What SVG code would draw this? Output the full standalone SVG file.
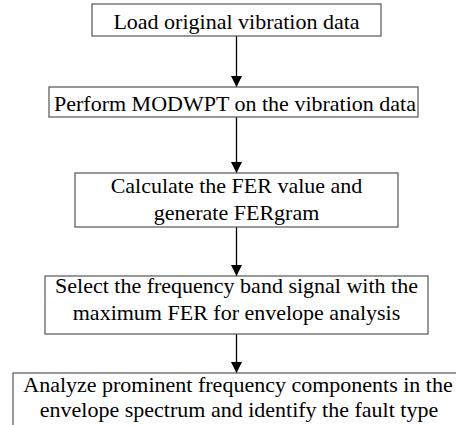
<svg xmlns="http://www.w3.org/2000/svg" width="456" height="425" viewBox="0 0 456 425">
  <defs>
    <style>
      .box { fill: #ffffff; stroke: #555555; stroke-width: 1.2; }
      .edge { stroke: #000000; stroke-width: 1.3; fill: none; marker-end: url(#arrow); }
    </style>
    <marker id="arrow" markerUnits="userSpaceOnUse" markerWidth="12" markerHeight="14" refX="11" refY="5.5" orient="auto">
      <path d="M0,0 L11,5.5 L0,11 Z" fill="#000000"/>
    </marker>
  </defs>
  <rect width="456" height="425" fill="#ffffff"/>

  <g id="connectors">
    <line class="edge" x1="236.5" y1="36" x2="236.5" y2="87"/>
    <line class="edge" x1="236.5" y1="117" x2="236.5" y2="173"/>
    <line class="edge" x1="236.5" y1="227" x2="236.5" y2="276"/>
    <line class="edge" x1="236.5" y1="334" x2="236.5" y2="373"/>
  </g>

  <g id="nodes" font-family="'Liberation Serif', 'Times New Roman', 'DejaVu Serif', serif" font-size="22" fill="#000000" text-anchor="middle">
    <g id="load-data">
      <rect class="box" x="92" y="4" width="289" height="32"/>
      <text x="236.5" y="29">Load original vibration data</text>
    </g>

    <g id="modwpt">
      <rect class="box" x="49" y="87" width="369" height="30"/>
      <text x="235" y="111">Perform MODWPT on the vibration data</text>
    </g>

    <g id="fer">
      <rect class="box" x="75" y="173" width="323" height="54"/>
      <text x="236.5" y="193">Calculate the FER value and</text>
      <text x="236.5" y="219.5">generate FERgram</text>
    </g>

    <g id="select-band">
      <rect class="box" x="45" y="276" width="383" height="58"/>
      <text x="236.5" y="293">Select the frequency band signal with the</text>
      <text x="236.5" y="319.5">maximum FER for envelope analysis</text>
    </g>

    <g id="analyze">
      <rect class="box" x="13" y="373" width="470" height="80"/>
      <text x="238" y="392">Analyze prominent frequency components in the</text>
      <text x="239" y="417">envelope spectrum and identify the fault type</text>
    </g>
  </g>
</svg>
